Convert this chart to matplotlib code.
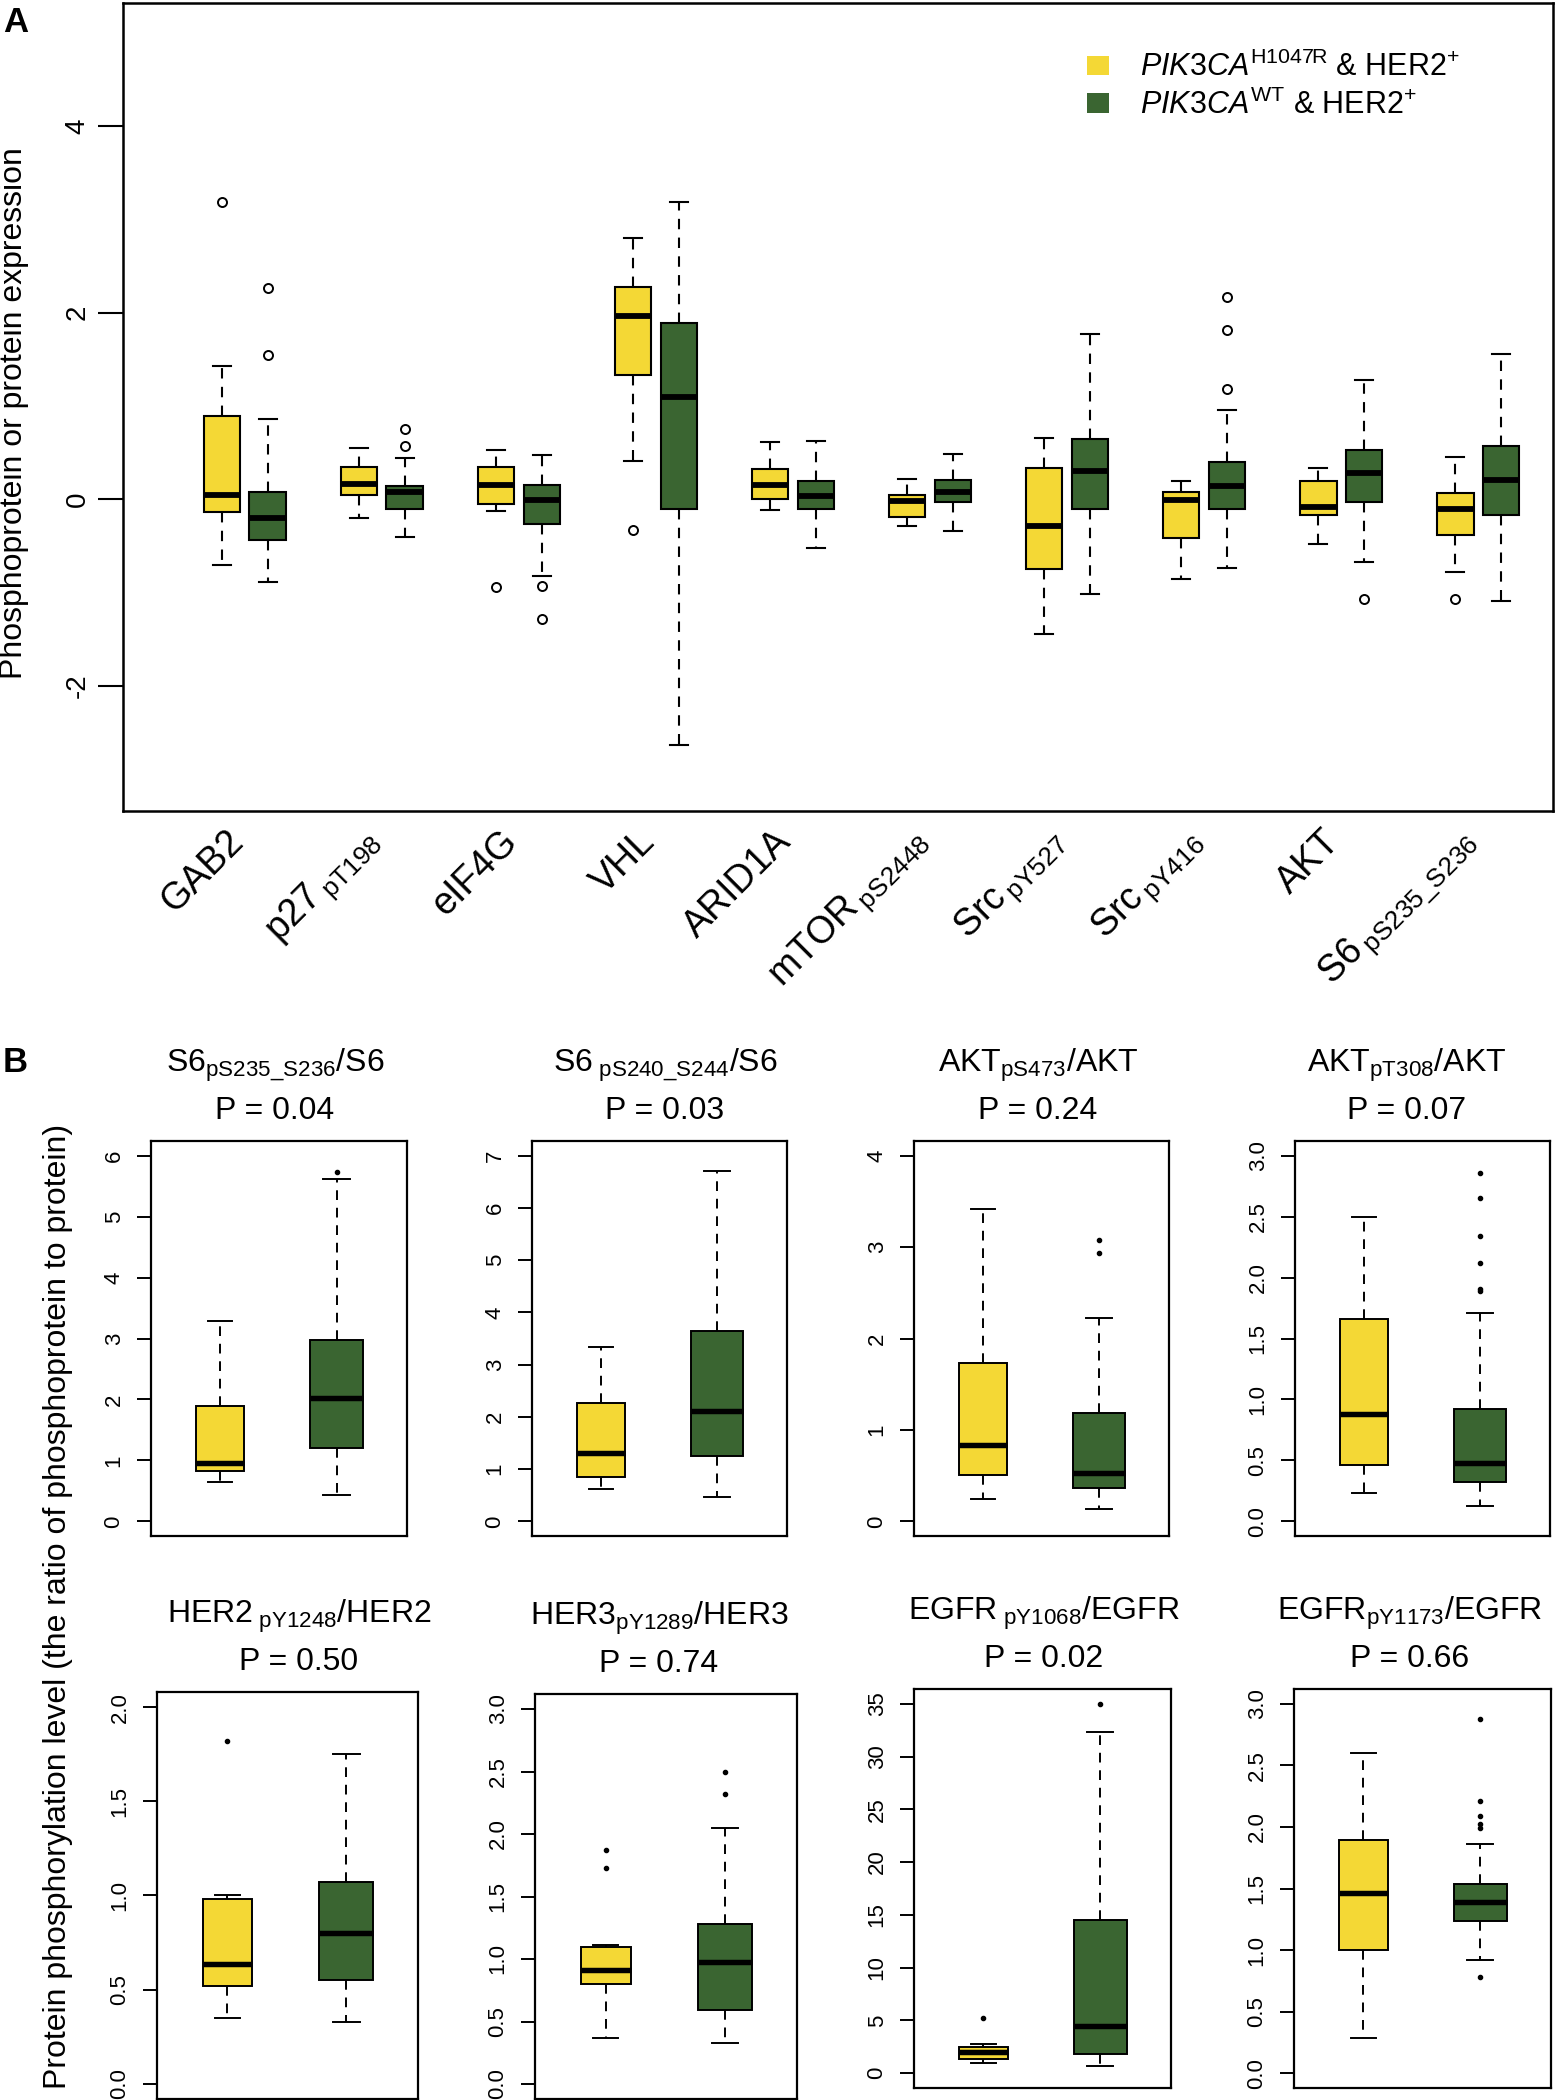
import matplotlib
matplotlib.use('Agg')
import matplotlib.pyplot as plt
from matplotlib.patches import Patch
from matplotlib.ticker import FormatStrFormatter
from matplotlib.transforms import ScaledTranslation
import numpy as np

plt.rcParams['font.family'] = 'Liberation Sans'
plt.rcParams['mathtext.fontset'] = 'custom'
plt.rcParams['mathtext.rm'] = 'Liberation Sans'
plt.rcParams['mathtext.it'] = 'Liberation Sans:italic'
plt.rcParams['mathtext.bf'] = 'Liberation Sans:bold'
plt.rcParams['axes.unicode_minus'] = False

YELLOW = '#F4D835'
GREEN = '#3A6531'

# ---- Panel A: box statistics ----
a_labels = ['GAB2', r'p27$\,_{\rm pT198}$', 'eIF4G', 'VHL', 'ARID1A',
            r'mTOR$\,_{\rm pS2448}$', r'Src$\,_{\rm pY527}$', r'Src$\,_{\rm pY416}$',
            'AKT', r'S6$\,_{\rm pS235\_S236}$']

a_mut_lo = [-0.71, -0.20, -0.13, 0.41, -0.12, -0.29, -1.44, -0.86, -0.48, -0.78]
a_mut_q1 = [-0.14, 0.05, -0.05, 1.33, 0.00, -0.19, -0.75, -0.42, -0.17, -0.38]
a_mut_med = [0.05, 0.16, 0.15, 1.96, 0.15, -0.02, -0.29, -0.01, -0.08, -0.10]
a_mut_q3 = [0.89, 0.34, 0.35, 2.27, 0.32, 0.05, 0.33, 0.08, 0.20, 0.07]
a_mut_hi = [1.43, 0.55, 0.53, 2.80, 0.61, 0.22, 0.66, 0.20, 0.33, 0.45]
a_mut_fliers = [[3.18], [], [-0.94], [-0.33], [], [], [], [], [], [-1.07]]

a_wt_lo = [-0.89, -0.41, -0.82, -2.63, -0.52, -0.34, -1.02, -0.74, -0.67, -1.09]
a_wt_q1 = [-0.44, -0.10, -0.27, -0.10, -0.11, -0.03, -0.11, -0.11, -0.03, -0.17]
a_wt_med = [-0.20, 0.08, -0.01, 1.09, 0.03, 0.08, 0.30, 0.14, 0.28, 0.21]
a_wt_q3 = [0.08, 0.14, 0.15, 1.89, 0.19, 0.21, 0.64, 0.40, 0.53, 0.57]
a_wt_hi = [0.86, 0.44, 0.47, 3.18, 0.62, 0.48, 1.77, 0.96, 1.28, 1.56]
a_wt_fliers = [[2.26, 1.55], [0.75, 0.57], [-0.93, -1.28], [], [], [], [],
               [2.17, 1.81, 1.18], [-1.07], []]

# ---- Panel B ----
b_names = [r'S6$_{\rm pS235\_S236}$/S6', r'S6$_{\rm\ pS240\_S244}$/S6',
           r'AKT$_{\rm pS473}$/AKT', r'AKT$_{\rm pT308}$/AKT',
           r'HER2$_{\rm\ pY1248}$/HER2', r'HER3$_{\rm pY1289}$/HER3',
           r'EGFR$_{\rm\ pY1068}$/EGFR', r'EGFR$_{\rm pY1173}$/EGFR']
b_pvals = ['0.04', '0.03', '0.24', '0.07', '0.50', '0.74', '0.02', '0.66']
b_ymax = [6, 7, 4, 3, 2, 3, 35, 3]
b_step = [1, 1, 1, 0.5, 0.5, 0.5, 5, 0.5]

b_mut_lo = [0.65, 0.61, 0.25, 0.23, 0.35, 0.37, 0.95, 0.29]
b_mut_q1 = [0.82, 0.85, 0.51, 0.46, 0.52, 0.80, 1.31, 1.00]
b_mut_med = [0.96, 1.30, 0.84, 0.88, 0.635, 0.91, 2.00, 1.46]
b_mut_q3 = [1.89, 2.26, 1.73, 1.66, 0.98, 1.10, 2.44, 1.89]
b_mut_hi = [3.28, 3.33, 3.42, 2.50, 1.00, 1.11, 2.73, 2.60]
b_mut_fliers = [[], [], [], [], [1.82], [1.87, 1.73], [5.24], []]

b_wt_lo = [0.43, 0.46, 0.14, 0.13, 0.33, 0.33, 0.69, 0.92]
b_wt_q1 = [1.20, 1.26, 0.37, 0.32, 0.55, 0.59, 1.78, 1.24]
b_wt_med = [2.03, 2.11, 0.53, 0.48, 0.80, 0.98, 4.47, 1.39]
b_wt_q3 = [2.98, 3.65, 1.19, 0.92, 1.07, 1.28, 14.5, 1.54]
b_wt_hi = [5.62, 6.71, 2.22, 1.71, 1.75, 2.05, 32.3, 1.86]
b_wt_fliers = [[5.73], [], [3.08, 2.94], [2.86, 2.65, 2.34, 2.12, 1.91, 1.89],
               [], [2.50, 2.32], [35.0], [2.88, 2.21, 2.09, 2.02, 1.99, 0.78]]


def make_stats(lo, q1, med, q3, hi, fl):
    return [dict(whislo=a, q1=b, med=c, q3=d, whishi=e, fliers=f)
            for a, b, c, d, e, f in zip(lo, q1, med, q3, hi, fl)]


def draw_boxes(ax, stats, pos, color, width, lw, flier):
    ax.bxp(stats, positions=pos, widths=width, patch_artist=True,
           manage_ticks=False, capwidths=width / 2,
           boxprops=dict(facecolor=color, edgecolor='black', linewidth=lw),
           medianprops=dict(color='black', linewidth=lw * 2.8, solid_capstyle='butt'),
           whiskerprops=dict(color='black', linewidth=lw, linestyle=(0, (5, 4))),
           capprops=dict(color='black', linewidth=lw),
           flierprops=flier)


W, H = 1556, 2100
fig = plt.figure(figsize=(W / 100, H / 100), dpi=100)


def px_axes(left, top, right, bottom):
    return fig.add_axes([left / W, 1 - bottom / H, (right - left) / W, (bottom - top) / H])


# ================= Panel A =================
axA = px_axes(122.5, 2.6, 1553, 811)
n = len(a_labels)
pos_mut = [1 + 3 * i for i in range(n)]
pos_wt = [2 + 3 * i for i in range(n)]
open_circle = dict(marker='o', markerfacecolor='none', markeredgecolor='black',
                   markersize=6.5, markeredgewidth=1.4, linestyle='none')
draw_boxes(axA, make_stats(a_mut_lo, a_mut_q1, a_mut_med, a_mut_q3, a_mut_hi, a_mut_fliers),
           pos_mut, YELLOW, 0.8, 1.5, open_circle)
draw_boxes(axA, make_stats(a_wt_lo, a_wt_q1, a_wt_med, a_wt_q3, a_wt_hi, a_wt_fliers),
           pos_wt, GREEN, 0.8, 1.5, open_circle)
axA.set_xlim(-1.18, 30.14)
axA.set_ylim(-3.34, 5.32)
axA.set_yticks([-2, 0, 2, 4])
axA.set_xticks([1.5 + 3 * i for i in range(n)])
axA.set_xticklabels(a_labels, rotation=45, ha='right', va='center',
                    rotation_mode='anchor', fontsize=27)
axA.tick_params(axis='x', length=0, pad=18)
shift = ScaledTranslation(-7 / 100, 0, fig.dpi_scale_trans)
for lab in axA.get_xticklabels():
    lab.set_transform(lab.get_transform() + shift)
axA.tick_params(axis='y', length=18, width=1.5, pad=5, labelsize=20, labelrotation=90)
for lab in axA.get_yticklabels():
    lab.set_va('center')
for sp in axA.spines.values():
    sp.set_linewidth(1.8)

handles = [Patch(facecolor=YELLOW, edgecolor='none'), Patch(facecolor=GREEN, edgecolor='none')]
labels = [r'$\it{PIK3CA}^{\rm H1047R}$ & HER2$^{+}$', r'$\it{PIK3CA}^{\rm WT}$ & HER2$^{+}$']
axA.legend(handles, labels, loc='upper left', bbox_to_anchor=(1087 / W, 1 - 52 / H),
           bbox_transform=fig.transFigure, frameon=False, fontsize=22,
           handlelength=0.72, handleheight=0.6, handletextpad=1.0,
           labelspacing=0.2, borderpad=0, borderaxespad=0)

fig.text(14 / W, 1 - 413 / H, 'Phosphoprotein or protein expression',
         rotation=90, ha='center', va='center', fontsize=23)
fig.text(3 / W, 1 - 6 / H, 'A', fontsize=25, fontweight='bold', ha='left', va='top')

# ================= Panel B =================
b_boxes = [(151, 1141, 407, 1536), (532, 1141, 787, 1536), (914, 1141, 1169, 1536),
           (1295, 1141, 1550, 1536), (157, 1692, 418, 2099), (535, 1694, 797, 2099),
           (914, 1689, 1171, 2088), (1294, 1689, 1551, 2088)]
b_title_x = [275, 665, 1038, 1407, 299, 659, 1044, 1410]

mut_stats = make_stats(b_mut_lo, b_mut_q1, b_mut_med, b_mut_q3, b_mut_hi, b_mut_fliers)
wt_stats = make_stats(b_wt_lo, b_wt_q1, b_wt_med, b_wt_q3, b_wt_hi, b_wt_fliers)
dot = dict(marker='o', markerfacecolor='black', markeredgecolor='black',
           markersize=3, linestyle='none')

for i in range(8):
    l, t, r, b = b_boxes[i]
    ax = px_axes(l, t, r, b)
    draw_boxes(ax, [mut_stats[i]], [1.04], YELLOW, 0.38, 1.4, dot)
    draw_boxes(ax, [wt_stats[i]], [1.95], GREEN, 0.41, 1.4, dot)
    ax.set_xlim(0.5, 2.5)
    ym = b_ymax[i]
    ax.set_ylim(-0.04 * ym, 1.04 * ym)
    ax.set_yticks(np.arange(0, ym + b_step[i] / 2, b_step[i]))
    ax.yaxis.set_major_formatter(FormatStrFormatter('%.1f' if b_step[i] < 1 else '%d'))
    ax.set_xticks([])
    ax.tick_params(axis='y', length=10, width=1.4, pad=9, labelsize=16, labelrotation=90)
    for lab in ax.get_yticklabels():
        lab.set_va('center')
    for sp in ax.spines.values():
        sp.set_linewidth(1.6)
    fig.text(b_title_x[i] / W, 1 - (t - 76) / H, b_names[i], ha='center', va='center', fontsize=23)
    fig.text(b_title_x[i] / W, 1 - (t - 30) / H, 'P = ' + b_pvals[i], ha='center', va='center',
             fontsize=23)

fig.text(58 / W, 1 - 1606 / H,
         'Protein phosphorylation level (the ratio of phosphoprotein to protein)',
         rotation=90, ha='center', va='center', fontsize=23)
fig.text(3 / W, 1 - 1046 / H, 'B', fontsize=25, fontweight='bold', ha='left', va='top')

fig.savefig('out.png', dpi=100)
